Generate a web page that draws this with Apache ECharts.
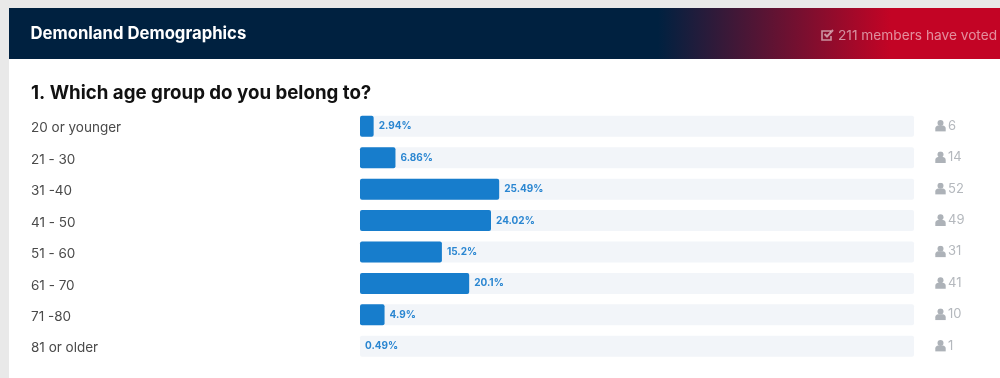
<!DOCTYPE html>
<html>
<head>
<meta charset="utf-8">
<style>html,body{margin:0;padding:0;background:#e9e9e9}#chart{width:1000px;height:378px}</style>
<script src="https://cdn.jsdelivr.net/npm/echarts@6/dist/echarts.min.js"></script>
</head>
<body>
<div id="chart"></div>
<script>
const categories = ['20 or younger', '21 - 30', '31 -40', '41 - 50', '51 - 60', '61 - 70', '71 -80', '81 or older']
const percents = [2.94, 6.86, 25.49, 24.02, 15.2, 20.1, 4.9, 0.49]
const votes = [6, 14, 52, 49, 31, 41, 10, 1]

const FONT = 'Inter, "Noto Sans", sans-serif'
const ICON_FADE = 'rgba(255,255,255,0.55)'
const USER_ICON = 'data:image/svg+xml;utf8,' + encodeURIComponent(
  '<svg xmlns="http://www.w3.org/2000/svg" width="11" height="12" viewBox="0 0 11 12">' +
  '<circle cx="5.5" cy="3.2" r="3" fill="#adb2b8"/>' +
  '<path d="M0.3 11.8V8.8C0.3 7.2 1.5 5.8 3.2 5.8H7.8C9.5 5.8 10.7 7.2 10.7 8.8V11.8Z" fill="#adb2b8"/></svg>')

const chart = echarts.init(document.getElementById('chart'), null, { renderer: 'canvas' })

const option = {
  backgroundColor: '#e9e9e9',
  animation: false,
  textStyle: { fontFamily: FONT },
  grid: { left: 360, right: 86, top: 110.6, height: 251.4 },
  // smallest poll bar has no visible length in the picture, so the scale starts at it
  xAxis: { type: 'value', min: Math.min(...percents), max: 100, show: false },
  yAxis: [
    {
      type: 'category',
      inverse: true,
      data: categories,
      axisLine: { show: false },
      axisTick: { show: false },
      axisLabel: {
        align: 'left',
        margin: 329,
        formatter: v => `{c|${v}}`,
        rich: {
          c: { color: '#4a4a4a', fontSize: 13.5, fontFamily: FONT, padding: [4, 0, 0, 0] },
        },
      },
    },
    {
      type: 'category',
      inverse: true,
      position: 'right',
      data: votes,
      axisLine: { show: false },
      axisTick: { show: false },
      axisLabel: {
        align: 'left',
        margin: 21,
        padding: [0, 0, 1, 0],
        formatter: v => `{icon|}{n|${v}}`,
        rich: {
          icon: { width: 11, height: 12, backgroundColor: { image: USER_ICON } },
          n: { color: '#b4b8bd', fontSize: 13, fontFamily: FONT, padding: [0, 0, 0, 2] },
        },
      },
    },
  ],
  series: [{
    type: 'bar',
    yAxisIndex: 0,
    data: percents,
    barWidth: 21,
    itemStyle: { color: '#177dcc', borderRadius: 2 },
    showBackground: true,
    backgroundStyle: { color: '#f2f5f9', borderRadius: 2 },
    label: {
      show: true,
      position: 'right',
      distance: 5,
      color: '#2a86d1',
      fontSize: 10,
      fontWeight: 700,
      fontFamily: FONT,
      padding: [0, 0, 2, 0],
      formatter: p => p.value + '%',
    },
  }],
  graphic: [
    { type: 'rect', z: -10, shape: { x: 9, y: 8, width: 991, height: 370 }, style: { fill: '#ffffff' } },
    {
      type: 'rect',
      shape: { x: 9, y: 8, width: 991, height: 51 },
      style: {
        fill: new echarts.graphic.LinearGradient(0, 0, 1, 0, [
          { offset: 0, color: '#002140' },
          { offset: 0.655, color: '#002140' },
          { offset: 0.89, color: '#c30425' },
          { offset: 1, color: '#c30425' },
        ]),
      },
    },
    {
      type: 'text', x: 30.5, y: 34,
      style: { text: 'Demonland Demographics', fill: '#ffffff', font: `700 16.7px ${FONT}`, verticalAlign: 'middle' },
    },
    // check-square icon
    {
      type: 'polyline',
      shape: { points: [[831, 31], [822, 31], [822, 40], [831, 40], [831, 36]] },
      style: { stroke: ICON_FADE, lineWidth: 1.6, fill: 'none' },
    },
    {
      type: 'polyline',
      shape: { points: [[824.5, 34], [827, 36.5], [833, 30]] },
      style: { stroke: ICON_FADE, lineWidth: 2, fill: 'none' },
    },
    {
      type: 'text', x: 838, y: 35.5,
      style: { text: '211 members have voted', fill: ICON_FADE, font: `400 13.7px ${FONT}`, verticalAlign: 'middle' },
    },
    {
      type: 'text', x: 31, y: 93,
      style: { text: '1. Which age group do you belong to?', fill: '#111111', font: `700 18.7px ${FONT}`, verticalAlign: 'middle' },
    },
  ],
}

chart.setOption(option)
window.addEventListener('resize', () => chart.resize())
</script>
</body>
</html>
